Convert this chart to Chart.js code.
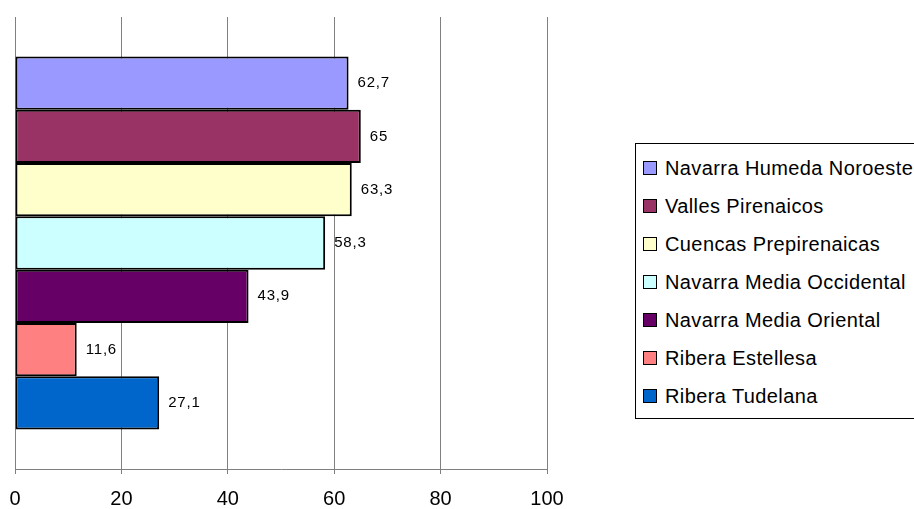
<!DOCTYPE html>
<html>
<head>
<meta charset="utf-8">
<script src="https://cdn.jsdelivr.net/npm/chart.js@4"></script>
<style>
  html, body { margin: 0; padding: 0; background: #fff; overflow: hidden; }
  #wrap { position: relative; width: 914px; height: 509px; overflow: hidden; }
  #legend {
    position: absolute; left: 635px; top: 143px; width: 320px;
    border: 1px solid #000; padding: 5px 0 3px 0; background: #fff;
    font-family: "Liberation Sans", Arial, sans-serif; font-size: 20px; letter-spacing: 0.4px; color: #000;
  }
  .row { height: 38px; display: flex; align-items: center; white-space: nowrap; }
  .box { width: 12px; height: 12px; border: 1px solid #000; margin: 0 8px 0 7px; flex: none; }
</style>
</head>
<body>
<div id="wrap">
  <canvas id="chart" width="914" height="524"></canvas>
  <div id="legend"></div>
</div>
<script>
// comarcas, de arriba a abajo
const comarcas = ['Navarra Humeda Noroeste', 'Valles Pirenaicos', 'Cuencas Prepirenaicas',
  'Navarra Media Occidental', 'Navarra Media Oriental', 'Ribera Estellesa', 'Ribera Tudelana'];
const valores = [62.7, 65, 63.3, 58.3, 43.9, 11.6, 27.1];
const colores = ['#9999FF', '#993366', '#FFFFCC', '#CCFFFF', '#660066', '#FF8080', '#0066CC'];
const ticksX = [0, 20, 40, 60, 80, 100];

const datasets = comarcas.map((c, i) => ({
  label: c,
  data: [valores[i]],
  backgroundColor: colores[i],
  borderColor: '#000',
  borderWidth: 2,
  borderSkipped: false,
  barPercentage: 1,
  categoryPercentage: 0.825
}));

// etiquetas de valor a la derecha de cada barra
const etiquetas = {
  id: 'etiquetas',
  afterDatasetsDraw(chart) {
    const ctx = chart.ctx;
    ctx.save();
    ctx.font = '15px "Liberation Sans", Arial, sans-serif';
    ctx.letterSpacing = '0.8px';
    ctx.fillStyle = '#000';
    ctx.textBaseline = 'middle';
    chart.data.datasets.forEach((ds, i) => {
      const bar = chart.getDatasetMeta(i).data[0];
      ctx.fillText(String(ds.data[0]).replace('.', ','), bar.x + 9, bar.y);
    });
    ctx.restore();
  }
};

new Chart(document.getElementById('chart'), {
  type: 'bar',
  data: { labels: [''], datasets: datasets },
  options: {
    indexAxis: 'y',
    responsive: false,
    animation: false,
    layout: { padding: { top: 17, right: 367, left: 15, bottom: 0 } },
    plugins: { legend: { display: false }, tooltip: { enabled: false } },
    scales: {
      x: {
        min: 0, max: 100,
        afterBuildTicks: s => { s.ticks = ticksX.map(v => ({ value: v })); },
        afterFit: s => { s.paddingLeft = 0; s.paddingRight = 0; },
        grid: { color: '#808080', lineWidth: 1, tickLength: 5 },
        border: { color: '#808080' },
        ticks: { color: '#000', font: { family: '"Liberation Sans", Arial, sans-serif', size: 20 }, padding: 13 }
      },
      y: { display: false }
    }
  },
  plugins: [etiquetas]
});

const leg = document.getElementById('legend');
comarcas.forEach((c, i) => {
  const r = document.createElement('div');
  r.className = 'row';
  r.innerHTML = '<span class="box" style="background:' + colores[i] + '"></span><span>' + c + '</span>';
  leg.appendChild(r);
});
</script>
</body>
</html>
